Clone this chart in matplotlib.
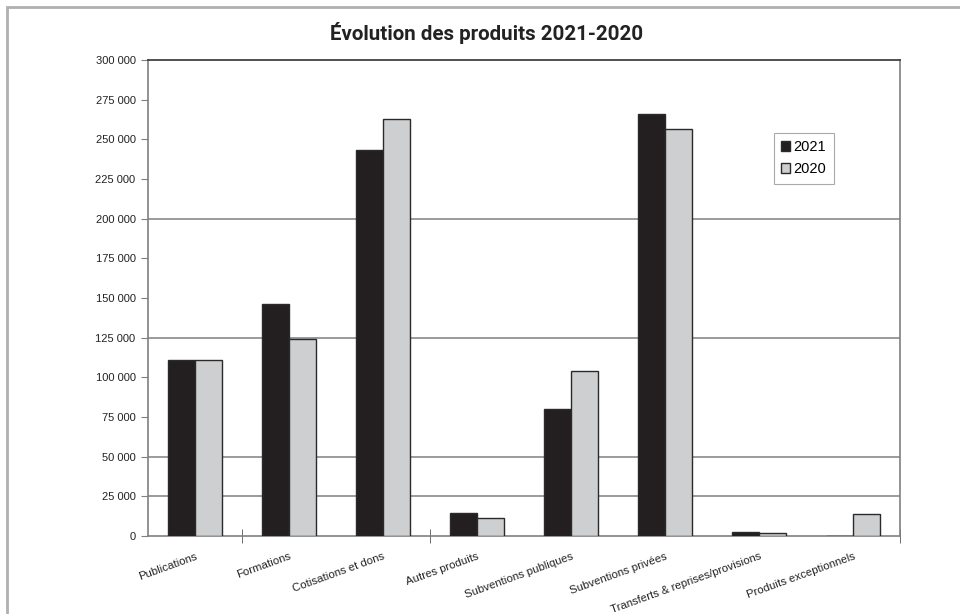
import matplotlib.pyplot as plt
from matplotlib.ticker import FuncFormatter
from matplotlib.patches import Rectangle
import numpy as np

categories = ["Publications", "Formations", "Cotisations et dons", "Autres produits",
              "Subventions publiques", "Subventions privées",
              "Transferts & reprises/provisions", "Produits exceptionnels"]
v2021 = [111000, 146000, 243000, 14300, 80200, 266000, 2400, 0]
v2020 = [111000, 124300, 263000, 11600, 103800, 256700, 2000, 14000]
yticks = list(range(0, 300001, 25000))
grid_levels = [25000, 50000, 125000, 200000]

plt.rcParams['font.family'] = ['Liberation Sans', 'DejaVu Sans']

fig = plt.figure(figsize=(9.6, 6.14), dpi=100)
ax = fig.add_axes([148/960, 1-536/614, 752/960, 476/614])

x = np.arange(len(categories))
w = 0.287
ax.bar(x - w/2, v2021, w, color="#231f20", edgecolor="#2a2a2a", linewidth=1, label="2021", zorder=3)
ax.bar(x + w/2, v2020, w, color="#cdcfd1", edgecolor="#2a2a2a", linewidth=1, label="2020", zorder=3)

for g in grid_levels:
    ax.axhline(g, color="#808080", lw=1.1, zorder=1)

ax.set_xlim(-0.5, 7.5)
ax.set_ylim(0, 300000)
ax.set_yticks(yticks)
ax.yaxis.set_major_formatter(FuncFormatter(lambda v, p: f"{int(v):,}".replace(",", " ")))
ax.tick_params(axis="y", length=5, color="#808080", labelsize=8, labelcolor="#222222", pad=4)

ax.set_xticks(x)
ax.set_xticklabels(categories, rotation=20, ha="right", va="top", rotation_mode="anchor",
                   fontsize=8.2, color="#222222")
ax.tick_params(axis="x", which="major", length=0, pad=11)
ax.set_xticks([0.5, 2.5, 7.5], minor=True)
ax.tick_params(axis="x", which="minor", direction="inout", length=10, color="#555555")

for s in ["left", "right", "bottom"]:
    ax.spines[s].set_color("#808080")
    ax.spines[s].set_linewidth(1.2)
ax.spines["top"].set_color("#333333")
ax.spines["top"].set_linewidth(1.2)

leg = fig.legend(loc="upper left", bbox_to_anchor=(774/960, 1-133/614), fontsize=10.5,
                 handlelength=0.6, handleheight=0.7, handletextpad=0.25, borderpad=0.5,
                 labelspacing=0.55, borderaxespad=0, fancybox=False, framealpha=1,
                 edgecolor="#aaaaaa")
leg.get_frame().set_linewidth(0.8)

fig.text(487/960, 1-33/614, "Évolution des produits 2021-2020", ha="center", va="center",
         fontsize=14.8, fontweight="bold", family="Roboto", color="#222222")

# outer frame
fig.add_artist(Rectangle((7/960, -0.1), 1.1, 1.1 - 7/614, transform=fig.transFigure,
                         fill=False, edgecolor="#b0b0b0", linewidth=2))

fig.savefig("out.png", dpi=100)
